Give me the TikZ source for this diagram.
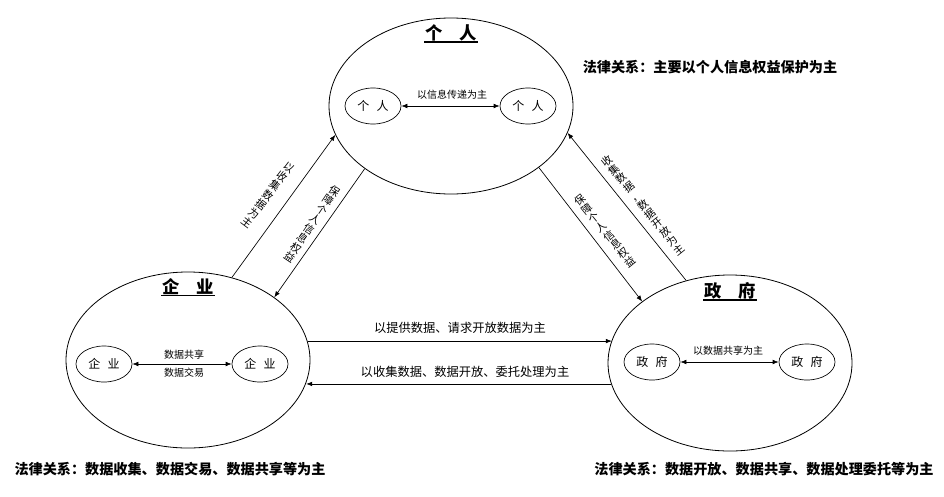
\documentclass[tikz,border=0pt]{standalone}
\usepackage{fontspec}
\newfontfamily\cjk{Noto Sans CJK SC}
\usetikzlibrary{arrows.meta, positioning, shapes.geometric, calc}
\tikzset{
    bigEll/.style={ellipse, draw, line width=0.6pt, minimum width=183pt, minimum height=132pt},
    smallEll/.style={ellipse, draw, line width=0.5pt, minimum width=42pt, minimum height=27pt, inner sep=0pt, font=\cjk\fontsize{9}{9}\selectfont},
    ttl/.style={font=\cjk\bfseries\fontsize{13}{13}\selectfont, inner sep=0.5pt},
    ttlLine/.style={line width=1pt},
    lab/.style={font=\cjk\fontsize{7.5}{7.5}\selectfont, inner sep=1pt},
    flowLab/.style={font=\cjk\fontsize{9.2}{9.2}\selectfont, inner sep=1pt},
    vLab/.style={font=\cjk\fontsize{8}{8.6}\selectfont, align=center, inner sep=0pt},
    law/.style={font=\cjk\bfseries\fontsize{10.6}{10.6}\selectfont, inner sep=0pt}
}

\begin{document}
\begin{tikzpicture}[x=0.75pt, y=-0.75pt, line width=0.5pt, >={Latex[length=4.5pt, width=3.5pt]}]
    \useasboundingbox (0,0) rectangle (944,496);
    % the three parties
    \node[bigEll] (Ind) at (451,106) {};
    \node[bigEll] (Ent) at (188,360) {};
    \node[bigEll] (Gov) at (730,363) {};
    \node[ttl] (IndTtl) at ($(Ind.north)+(0,15)$) {个\quad 人};
    \node[ttl] (EntTtl) at ($(Ent.north)+(0,15)$) {企\quad 业};
    \node[ttl] (GovTtl) at ($(Gov.north)+(0,16)$) {政\quad 府};
    \draw[ttlLine] (IndTtl.south west) -- (IndTtl.south east);
    \draw[ttlLine] (EntTtl.south west) -- (EntTtl.south east);
    \draw[ttlLine] (GovTtl.south west) -- (GovTtl.south east);

    % inside each party
    \node[smallEll] (IndA) at (373,106) {个\hspace{0.6em}人};
    \node[smallEll] (IndB) at (528,106) {个\hspace{0.6em}人};
    \draw[<->] (IndA.east) -- (IndB.west);
    \node[lab] (IndMsg) at (452,95) {以信息传递为主};

    \node[smallEll] (EntA) at (104,364) {企\hspace{0.6em}业};
    \node[smallEll] (EntB) at (260,364) {企\hspace{0.6em}业};
    \draw[<->] (EntA.east) -- (EntB.west);
    \node[lab] (EntShare) at (184,355) {数据共享};
    \node[lab] (EntTrade) at (184,373) {数据交易};

    \node[smallEll] (GovA) at (652,362) {政\hspace{0.6em}府};
    \node[smallEll] (GovB) at (807,362) {政\hspace{0.6em}府};
    \draw[<->] (GovA.east) -- (GovB.west);
    \node[lab] (GovMsg) at (728,351) {以数据共享为主};

    % between the parties
    \draw[->] (Ent.62) -- (Ind.194);
    \draw[->] (Ind.216) -- (Ent.36);
    \draw[->] (Ind.325) -- (Gov.145);
    \draw[->] (Gov.118) -- (Ind.347);
    \draw[->] (Ent.9) -- (Ent.9 -| Gov.169);
    \draw[->] (Gov.190) -- (Gov.190 -| Ent.349);

    \node[vLab, rotate=-37] (EntIndLab) at (268,195) {以\\收\\集\\数\\据\\为\\主};
    \node[vLab, rotate=-34] (IndEntLab) at (312,224) {保\\障\\个\\人\\信\\息\\权\\益};
    \node[vLab, rotate=39] (IndGovLab) at (605,231) {保\\障\\个\\人\\信\\息\\权\\益};
    \node[vLab, rotate=39] (GovIndLab) at (643,205) {收\\集\\数\\据\\，\\数\\据\\开\\放\\为\\主};
    \node[flowLab] (EntGovLab) at (460,328) {以提供数据、请求开放数据为主};
    \node[flowLab] (GovEntLab) at (465,372) {以收集数据、数据开放、委托处理为主};

    % legal relations
    \node[law] (IndLaw) at (710,67) {法律关系：主要以个人信息权益保护为主};
    \node[law] (EntLaw) at (170,469) {法律关系：数据收集、数据交易、数据共享等为主};
    \node[law] (GovLaw) at (764,469) {法律关系：数据开放、数据共享、数据处理委托等为主};
\end{tikzpicture}
\end{document}
